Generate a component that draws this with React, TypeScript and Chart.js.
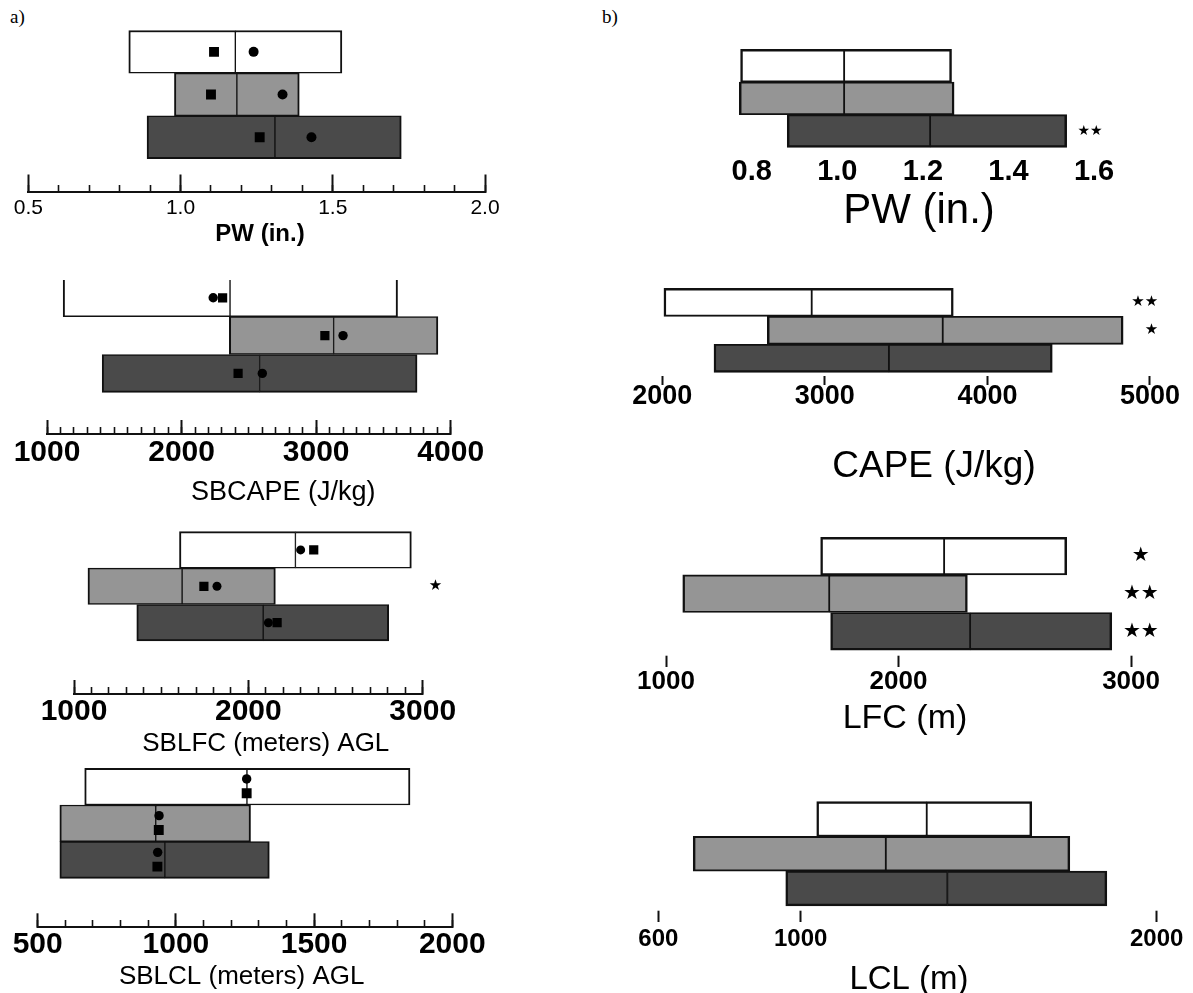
import React, { useEffect, useRef } from 'react';
import { Chart, registerables } from 'chart.js';

Chart.register(...registerables);

const FONT = 'Liberation Sans';
const STAR_FONT = 'DejaVu Sans';

// ---------- categories (box rows, top to bottom) ----------
const GROUPS = ['Group 1', 'Group 2', 'Group 3'];
const BOX_FILLS = ['#ffffff', '#959595', '#4a4a4a'];

// ---------- a) PW ----------
const A_PW_Q1 = [0.83, 0.98, 0.89];
const A_PW_MEDIAN = [1.18, 1.185, 1.31];
const A_PW_Q3 = [1.53, 1.39, 1.725];
const A_PW_SQUARE = [1.11, 1.1, 1.26];
const A_PW_CIRCLE = [1.24, 1.335, 1.43];
const A_PW_TICKS = [0.5, 1.0, 1.5, 2.0];
const A_PW_TICK_LABELS = ['0.5', '1.0', '1.5', '2.0'];

// ---------- a) SBCAPE ----------
const A_CAPE_Q1 = [1120, 2355, 1410];
const A_CAPE_MEDIAN = [2360, 3130, 2580];
const A_CAPE_Q3 = [3605, 3905, 3750];
const A_CAPE_SQUARE = [2305, 3065, 2420];
const A_CAPE_CIRCLE = [2235, 3200, 2600];
const A_CAPE_TICKS = [1000, 2000, 3000, 4000];
const A_CAPE_TICK_LABELS = ['1000', '2000', '3000', '4000'];

// ---------- a) SBLFC ----------
const A_LFC_Q1 = [1605, 1080, 1360];
const A_LFC_MEDIAN = [2270, 1620, 2085];
const A_LFC_Q3 = [2935, 2155, 2805];
const A_LFC_SQUARE = [2375, 1745, 2165];
const A_LFC_CIRCLE = [2300, 1820, 2115];
const A_LFC_STARS = ['', '★', ''];
const A_LFC_TICKS = [1000, 2000, 3000];
const A_LFC_TICK_LABELS = ['1000', '2000', '3000'];

// ---------- a) SBLCL ----------
const A_LCL_Q1 = [670, 580, 580];
const A_LCL_MEDIAN = [1257, 927, 960];
const A_LCL_Q3 = [1847, 1270, 1338];
const A_LCL_SQUARE = [1256, 938, 933];
const A_LCL_CIRCLE = [1256, 939, 934];
const A_LCL_TICKS = [500, 1000, 1500, 2000];
const A_LCL_TICK_LABELS = ['500', '1000', '1500', '2000'];

// ---------- b) PW ----------
const B_PW_Q1 = [0.774, 0.771, 0.883];
const B_PW_MEDIAN = [1.016, 1.016, 1.217];
const B_PW_Q3 = [1.267, 1.273, 1.536];
const B_PW_STARS = ['', '', '★★'];
const B_PW_TICKS = [0.8, 1.0, 1.2, 1.4, 1.6];
const B_PW_TICK_LABELS = ['0.8', '1.0', '1.2', '1.4', '1.6'];

// ---------- b) CAPE ----------
const B_CAPE_Q1 = [2010, 2646, 2318];
const B_CAPE_MEDIAN = [2919, 3725, 3394];
const B_CAPE_Q3 = [3790, 4835, 4399];
const B_CAPE_STARS = ['★★', '★', ''];
const B_CAPE_TICKS = [2000, 3000, 4000, 5000];
const B_CAPE_TICK_LABELS = ['2000', '3000', '4000', '5000'];

// ---------- b) LFC ----------
const B_LFC_Q1 = [1665, 1072, 1708];
const B_LFC_MEDIAN = [2196, 1702, 2308];
const B_LFC_Q3 = [2723, 2296, 2917];
const B_LFC_STARS = ['★', '★★', '★★'];
const B_LFC_TICKS = [1000, 2000, 3000];
const B_LFC_TICK_LABELS = ['1000', '2000', '3000'];

// ---------- b) LCL ----------
const B_LCL_Q1 = [1045, 698, 958];
const B_LCL_MEDIAN = [1354, 1239, 1412];
const B_LCL_Q3 = [1649, 1756, 1860];
const B_LCL_TICKS = [600, 1000, 2000];
const B_LCL_TICK_LABELS = ['600', '1000', '2000'];

const NO_STARS = ['', '', ''];

// ---------- panel specs (data refs + layout/style) ----------
const PANELS: any[] = [
  {
    q1: A_PW_Q1, median: A_PW_MEDIAN, q3: A_PW_Q3, square: A_PW_SQUARE, circle: A_PW_CIRCLE,
    stars: NO_STARS, ticks: A_PW_TICKS, tickLabels: A_PW_TICK_LABELS, title: 'PW (in.)',
    layout: {
      xMin: 0.5, xMax: 2.0, L: 28.3, R: 485, rowTop: 30.5, rowHeight: 42.7, yMin: -0.55, B: 191.5,
      majorLen: 17, minorLen: 7, minorStep: 0.1, axisLine: true,
      tickSize: 21, tickWeight: 'normal', labelY: 208.3,
      titleSize: 24, titleWeight: 'bold', titleX: 260, titleY: 234,
      borderW: 2, squareR: 7, circleR: 5, markerDy: [0, 0],
    },
  },
  {
    q1: A_CAPE_Q1, median: A_CAPE_MEDIAN, q3: A_CAPE_Q3, square: A_CAPE_SQUARE, circle: A_CAPE_CIRCLE,
    stars: NO_STARS, ticks: A_CAPE_TICKS, tickLabels: A_CAPE_TICK_LABELS, title: 'SBCAPE (J/kg)',
    layout: {
      xMin: 1000, xMax: 4000, L: 47, R: 450.7, rowTop: 278.9, rowHeight: 37.8, yMin: -0.47, B: 434,
      majorLen: 14, minorLen: 7, minorStep: 100, axisLine: true,
      tickSize: 30, tickWeight: 'bold', labelY: 452.7,
      titleSize: 27, titleWeight: 'normal', titleX: 283.3, titleY: 492.5,
      borderW: 2, squareR: 6.5, circleR: 4.7, markerDy: [0, 0], clipTop: true,
    },
  },
  {
    q1: A_LFC_Q1, median: A_LFC_MEDIAN, q3: A_LFC_Q3, square: A_LFC_SQUARE, circle: A_LFC_CIRCLE,
    stars: A_LFC_STARS, ticks: A_LFC_TICKS, tickLabels: A_LFC_TICK_LABELS, title: 'SBLFC (meters) AGL',
    layout: {
      xMin: 1000, xMax: 3000, L: 74, R: 422.7, rowTop: 531.7, rowHeight: 36.4, yMin: -0.55, B: 694,
      majorLen: 14, minorLen: 7, minorStep: 100, axisLine: true,
      tickSize: 30, tickWeight: 'bold', labelY: 711.7,
      titleSize: 26, titleWeight: 'normal', titleX: 265.8, titleY: 744,
      borderW: 2, squareR: 6.5, circleR: 4.5, markerDy: [0, 0],
      starSize: 15, starMode: 'near', starPad: 6,
    },
  },
  {
    q1: A_LCL_Q1, median: A_LCL_MEDIAN, q3: A_LCL_Q3, square: A_LCL_SQUARE, circle: A_LCL_CIRCLE,
    stars: NO_STARS, ticks: A_LCL_TICKS, tickLabels: A_LCL_TICK_LABELS, title: 'SBLCL (meters) AGL',
    layout: {
      xMin: 500, xMax: 2000, L: 37.7, R: 452.3, rowTop: 768.3, rowHeight: 36.7, yMin: -0.55, B: 927.3,
      majorLen: 14, minorLen: 7, minorStep: 100, axisLine: true,
      tickSize: 30, tickWeight: 'bold', labelY: 945,
      titleSize: 26, titleWeight: 'normal', titleX: 241.7, titleY: 976.7,
      borderW: 2, squareR: 7, circleR: 4.7, markerDy: [-0.21, 0.18],
    },
  },
  {
    q1: B_PW_Q1, median: B_PW_MEDIAN, q3: B_PW_Q3,
    stars: B_PW_STARS, ticks: B_PW_TICKS, tickLabels: B_PW_TICK_LABELS, title: 'PW (in.)',
    layout: {
      xMin: 0.75, xMax: 1.62, L: 730.3, R: 1102.6, rowTop: 49.3, rowHeight: 32.7, yMin: -0.55, B: 150,
      majorLen: 0, minorLen: 0, axisLine: false,
      tickSize: 29, tickWeight: 'bold', labelY: 171.7,
      titleSize: 42, titleWeight: 'normal', titleX: 919, titleY: 211.7,
      borderW: 2.5, starSize: 14, starMode: 'mirror', starPad: 0,
    },
  },
  {
    q1: B_CAPE_Q1, median: B_CAPE_MEDIAN, q3: B_CAPE_Q3,
    stars: B_CAPE_STARS, ticks: B_CAPE_TICKS, tickLabels: B_CAPE_TICK_LABELS, title: 'CAPE (J/kg)',
    layout: {
      xMin: 2000, xMax: 5050, L: 662.3, R: 1158.1, rowTop: 288.3, rowHeight: 28, yMin: -0.55, B: 385,
      majorLen: 9, minorLen: 0, axisLine: false,
      tickSize: 27, tickWeight: 'bold', labelY: 396.7,
      titleSize: 37, titleWeight: 'normal', titleX: 934, titleY: 467,
      borderW: 2.5, starSize: 15, starMode: 'mirror', starPad: 0,
    },
  },
  {
    q1: B_LFC_Q1, median: B_LFC_MEDIAN, q3: B_LFC_Q3,
    stars: B_LFC_STARS, ticks: B_LFC_TICKS, tickLabels: B_LFC_TICK_LABELS, title: 'LFC (m)',
    layout: {
      xMin: 1000, xMax: 3119, L: 666, R: 1158.75, rowTop: 537.3, rowHeight: 37.6, yMin: -0.55, B: 666.7,
      majorLen: 11, minorLen: 0, axisLine: false,
      tickSize: 26, tickWeight: 'bold', labelY: 681.7,
      titleSize: 34, titleWeight: 'normal', titleX: 905, titleY: 718.3,
      borderW: 2.5, starSize: 20, starMode: 'mirror-center', starPad: 0,
    },
  },
  {
    q1: B_LCL_Q1, median: B_LCL_MEDIAN, q3: B_LCL_Q3,
    stars: NO_STARS, ticks: B_LCL_TICKS, tickLabels: B_LCL_TICK_LABELS, title: 'LCL (m)',
    layout: {
      xMin: 600, xMax: 2000, L: 658.3, R: 1156.7, rowTop: 801.7, rowHeight: 34.7, yMin: -0.55, B: 921.7,
      majorLen: 11, minorLen: 0, axisLine: false,
      tickSize: 24, tickWeight: 'bold', labelY: 939,
      titleSize: 33, titleWeight: 'normal', titleX: 909, titleY: 979.5,
      borderW: 2.5,
    },
  },
];

const SIDE = 60;
const TOP = 22;

function geometry(l: any) {
  const T = l.rowTop + (l.yMin + 0.5) * l.rowHeight;
  const yMax = l.yMin + (l.B - T) / l.rowHeight;
  const delta = l.titleX - (l.L + l.R) / 2;
  const leftW = delta < 0 ? -2 * delta : 0;
  const rightW = delta > 0 ? 2 * delta : 0;
  const titleLH = l.titleSize * 1.2;
  const axisH = l.titleY - l.B - titleLH / 2;
  const canvasLeft = Math.floor(l.L - leftW - SIDE);
  const canvasTop = Math.floor(T - TOP);
  const padL = l.L - leftW - canvasLeft;
  const padT = T - canvasTop;
  const width = Math.ceil(l.R + rightW + SIDE - canvasLeft);
  const padR = width - (l.R + rightW - canvasLeft);
  const height = Math.ceil(l.B + axisH + titleLH - canvasTop + 1);
  const padB = height - (l.B + axisH + titleLH - canvasTop);
  return { T, yMax, leftW, rightW, axisH, canvasLeft, canvasTop, padL, padT, padR, padB, width, height };
}

function Panel({ spec }: { spec: any }) {
  const ref = useRef<HTMLCanvasElement>(null);
  const l = spec.layout;
  const g = geometry(l);

  useEffect(() => {
    const canvas = ref.current;
    if (!canvas) return;
    const W = l.borderW;
    const borderFor = (side: string) => (ctx: any) => {
      const i = ctx.dataIndex ?? 1;
      return {
        left: side === 'lo' ? W : W / 2,
        right: side === 'lo' ? W / 2 : W,
        top: i === 0 ? (l.clipTop ? 0 : W) : W * 0.75,
        bottom: i === GROUPS.length - 1 ? W : W * 0.75,
      };
    };
    const barCommon = {
      type: 'bar', indexAxis: 'y', xAxisID: 'x', yAxisID: 'y',
      grouped: false, barPercentage: 1, categoryPercentage: 1,
      borderSkipped: false, borderColor: '#111', backgroundColor: BOX_FILLS,
      order: 2, clip: l.clipTop ? 0 : false,
    };
    const datasets: any[] = [
      { ...barCommon, label: 'Q1 to median', data: GROUPS.map((_, i) => ({ x: [spec.q1[i], spec.median[i]], y: i })), borderWidth: borderFor('lo') },
      { ...barCommon, label: 'median to Q3', data: GROUPS.map((_, i) => ({ x: [spec.median[i], spec.q3[i]], y: i })), borderWidth: borderFor('hi') },
    ];
    const dy = l.markerDy || [0, 0];
    if (spec.circle) {
      datasets.push({
        type: 'scatter', label: 'circle', xAxisID: 'x', yAxisID: 'y', order: 0,
        data: GROUPS.map((_, i) => ({ x: spec.circle[i], y: i + dy[0] })),
        pointStyle: 'circle', pointRadius: l.circleR, pointBackgroundColor: '#000', pointBorderWidth: 0,
        backgroundColor: '#000', borderWidth: 0,
      });
    }
    if (spec.square) {
      datasets.push({
        type: 'scatter', label: 'square', xAxisID: 'x', yAxisID: 'y', order: 0,
        data: GROUPS.map((_, i) => ({ x: spec.square[i], y: i + dy[1] })),
        pointStyle: 'rect', pointRadius: l.squareR, pointBackgroundColor: '#000', pointBorderWidth: 0,
        backgroundColor: '#000', borderWidth: 0,
      });
    }

    const hasTicks = l.majorLen > 0;
    const starMode: string = l.starMode || 'near';
    const scales: any = {
      x: {
        type: 'linear', axis: 'x', position: 'bottom', min: l.xMin, max: l.xMax, offset: false,
        afterBuildTicks: (s: any) => { s.ticks = spec.ticks.map((v: number) => ({ value: v })); },
        afterFit: (s: any) => { s.height = g.axisH; },
        ticks: {
          autoSkip: false, maxRotation: 0, minRotation: 0, color: '#000',
          padding: l.labelY - l.B + l.majorLen - 0.6 * l.tickSize,
          font: { family: FONT, size: l.tickSize, weight: l.tickWeight },
          callback: (_v: any, i: number) => spec.tickLabels[i] ?? '',
        },
        grid: {
          display: hasTicks, drawOnChartArea: false, drawTicks: hasTicks, offset: false,
          tickLength: -l.majorLen, tickWidth: 2, tickColor: '#111',
        },
        border: { display: l.axisLine, width: 2, color: '#111' },
      },
      y: {
        type: 'linear', axis: 'y', position: 'left', min: l.yMin, max: g.yMax, reverse: true, offset: false,
        afterBuildTicks: (s: any) => { s.ticks = GROUPS.map((_, i) => ({ value: i })); },
        afterFit: (s: any) => { s.width = g.leftW; },
        ticks: { display: false },
        grid: { display: false, drawTicks: false, offset: false },
        border: { display: false },
      },
      y2: {
        type: 'linear', axis: 'y', position: 'right', min: l.yMin, max: g.yMax, reverse: true, offset: false,
        afterBuildTicks: (s: any) => { s.ticks = GROUPS.map((_, i) => ({ value: i })); },
        afterFit: (s: any) => { s.width = g.rightW; },
        ticks: {
          display: true, autoSkip: false, color: '#000',
          mirror: starMode.startsWith('mirror'),
          crossAlign: starMode.endsWith('center') ? 'center' : 'near',
          padding: l.starPad ?? 0,
          font: { family: STAR_FONT, size: l.starSize ?? 14 },
          callback: (v: any) => spec.stars[Math.round(v)] ?? '',
        },
        grid: { display: false, drawTicks: false, offset: false },
        border: { display: false },
      },
    };
    if (l.minorStep) {
      scales.x2 = {
        type: 'linear', axis: 'x', position: { y: g.yMax }, min: l.xMin, max: l.xMax, offset: false,
        ticks: { display: false, stepSize: l.minorStep, maxTicksLimit: 1000 },
        grid: {
          display: true, drawOnChartArea: false, drawTicks: true, offset: false,
          tickLength: -l.minorLen, tickWidth: 1.6, tickColor: '#111',
        },
        border: { display: false },
      };
    }

    const chart = new Chart(canvas, {
      type: 'bar',
      data: { datasets },
      options: {
        responsive: false,
        animation: false,
        events: [],
        layout: { padding: { left: g.padL, right: g.padR, top: g.padT, bottom: g.padB } },
        plugins: {
          legend: { display: false },
          tooltip: { enabled: false },
          title: {
            display: true, text: spec.title, position: 'bottom', align: 'center', color: '#000',
            font: { family: FONT, size: l.titleSize, weight: l.titleWeight },
            padding: { top: 0, bottom: 0 },
          },
        },
        scales,
      },
    } as any);
    return () => chart.destroy();
  }, []);

  return (
    <canvas
      ref={ref}
      width={g.width}
      height={g.height}
      style={{ position: 'absolute', left: g.canvasLeft, top: g.canvasTop, width: g.width, height: g.height }}
    />
  );
}

export default function App() {
  const labelStyle: any = {
    position: 'absolute', top: 7, fontFamily: '"Liberation Serif", serif', fontSize: 19, lineHeight: '19px', color: '#000',
  };
  return (
    <div style={{ position: 'absolute', left: 0, top: 0, width: 1193, height: 993, overflow: 'hidden', background: '#fff' }}>
      <div style={{ ...labelStyle, left: 10 }}>a)</div>
      <div style={{ ...labelStyle, left: 602 }}>b)</div>
      {PANELS.map((p, i) => (
        <Panel key={i} spec={p} />
      ))}
    </div>
  );
}
